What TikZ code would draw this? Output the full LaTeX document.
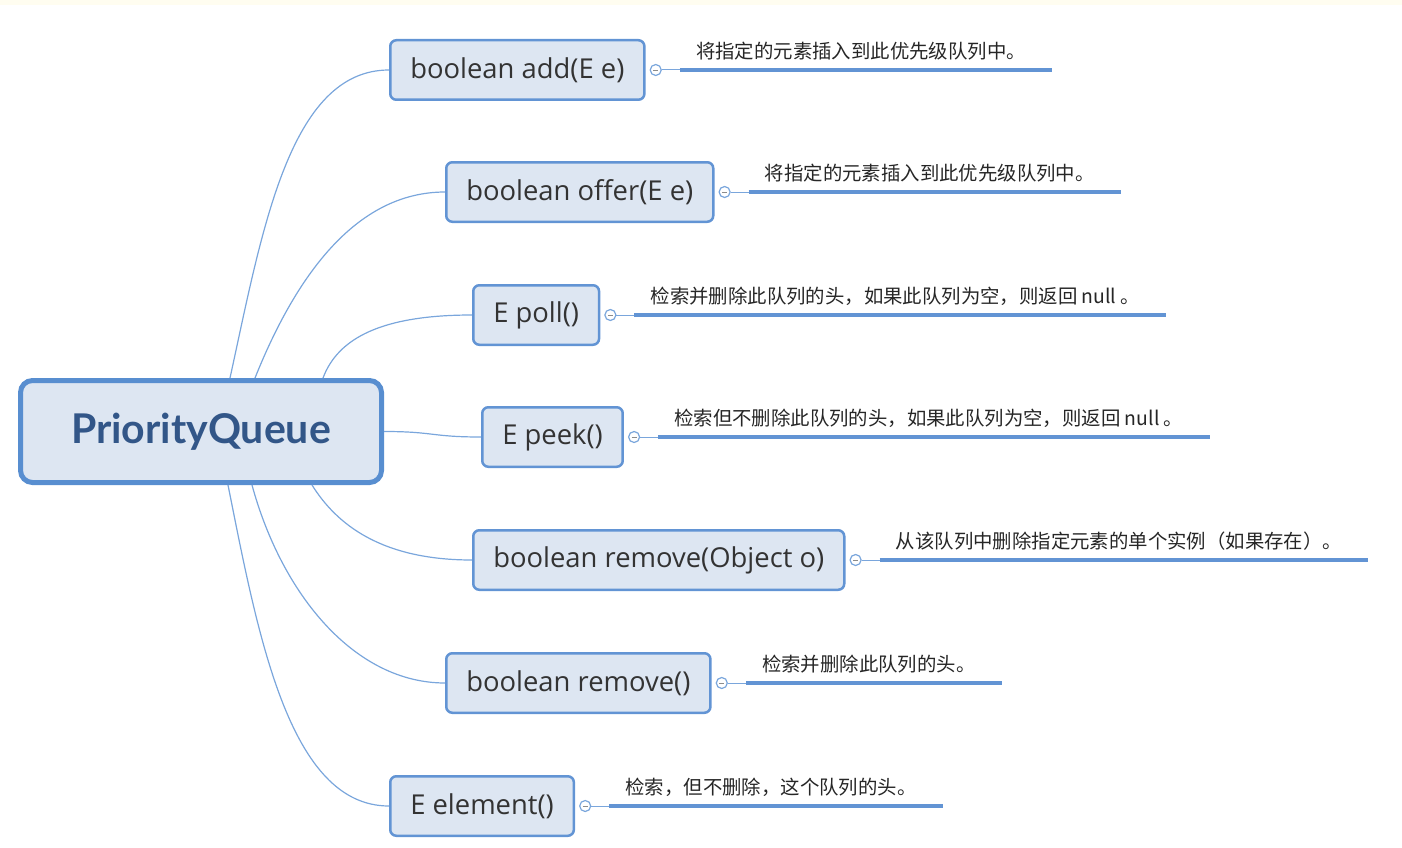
\documentclass[tikz,border=0pt]{standalone}
\usepackage{fontspec}
\setmainfont{Open Sans}
\newfontfamily\rootfont{Lato}
\newfontfamily\cjk{Noto Sans CJK SC}
\usetikzlibrary{positioning, calc}

\definecolor{boxfill}{RGB}{221,230,242}
\definecolor{boxline}{RGB}{98,148,212}
\definecolor{rootline}{RGB}{88,142,208}
\definecolor{curveline}{RGB}{122,166,220}
\definecolor{roottext}{RGB}{50,86,136}
\definecolor{topband}{RGB}{255,253,240}

\tikzset{
  rootbox/.style={draw=rootline, line width=5pt, fill=boxfill, rounded corners=12pt,
    minimum width=361pt, minimum height=102pt, text=roottext,
    font=\rootfont\bfseries\fontsize{41}{46}\selectfont},
  childbox/.style={draw=boxline, line width=2.5pt, fill=boxfill, rounded corners=6pt,
    minimum height=59.5pt, inner xsep=20pt, anchor=west, text=black!80,
    font=\fontsize{27.4}{31}\selectfont},
  foldmark/.style={circle, draw=curveline, line width=1.2pt, fill=white,
    minimum size=11pt, inner sep=0pt,
    path picture={\draw[black!45, line width=0.8pt]
      ([xshift=-2.5pt]path picture bounding box.center) -- ([xshift=2.5pt]path picture bounding box.center);}},
  note/.style={font=\cjk\fontsize{19.4}{22}\selectfont, inner xsep=0pt, inner ysep=11.5pt,
    text depth=0pt, text=black!85},
  branch/.style={draw=curveline, line width=1.2pt},
  stem/.style={draw=curveline, line width=1pt},
  underline/.style={draw=boxline, line width=3.2pt},
}

\begin{document}
\begin{tikzpicture}[x=1pt, y=-1pt]
        \useasboundingbox (0,0) rectangle (1402,848);
        % top band
        \fill[topband] (0,0) rectangle (1402,5);

        % the root
        \node[rootbox] (root) at (201,431.5) {PriorityQueue};

        % the methods
        \node[childbox] (add)     at (389,70)  {boolean add(E e)};
        \node[childbox] (offer)   at (445,192) {boolean offer(E e)};
        \node[childbox] (poll)    at (472,315) {E poll()};
        \node[childbox] (peek)    at (481,437) {E peek()};
        \node[childbox] (removeo) at (472,560) {boolean remove(Object o)};
        \node[childbox] (remove)  at (445,683) {boolean remove()};
        \node[childbox] (element) at (389,806) {E element()};

        % fold marks
        \node[foldmark, right=4pt of add]     (addc) {};
        \node[foldmark, right=4pt of offer]   (offerc) {};
        \node[foldmark, right=4pt of poll]    (pollc) {};
        \node[foldmark, right=4pt of peek]    (peekc) {};
        \node[foldmark, right=4pt of removeo] (removeoc) {};
        \node[foldmark, right=4pt of remove]  (removec) {};
        \node[foldmark, right=4pt of element] (elementc) {};

        % notes
        \node[note, above right=0pt and 34pt of addc.east]     (addl) {将指定的元素插入到此优先级队列中。};
        \node[note, above right=0pt and 34pt of offerc.east]   (offerl) {将指定的元素插入到此优先级队列中。};
        \node[note, above right=0pt and 34pt of pollc.east]    (polll) {检索并删除此队列的头，如果此队列为空，则返回 null 。};
        \node[note, above right=0pt and 34pt of peekc.east]    (peekl) {检索但不删除此队列的头，如果此队列为空，则返回 null 。};
        \node[note, above right=0pt and 34pt of removeoc.east] (removeol) {从该队列中删除指定元素的单个实例（如果存在）。};
        \node[note, above right=0pt and 34pt of removec.east]  (removel) {检索并删除此队列的头。};
        \node[note, above right=0pt and 34pt of elementc.east] (elementl) {检索，但不删除，这个队列的头。};

        % note lines
        \draw[stem] (addc) -- ([xshift=-16pt]addl.south west);
        \draw[underline] ([xshift=-16pt]addl.south west) -- ([xshift=26pt]addl.south east);
        \draw[stem] (offerc) -- ([xshift=-16pt]offerl.south west);
        \draw[underline] ([xshift=-16pt]offerl.south west) -- ([xshift=26pt]offerl.south east);
        \draw[stem] (pollc) -- ([xshift=-16pt]polll.south west);
        \draw[underline] ([xshift=-16pt]polll.south west) -- ([xshift=26pt]polll.south east);
        \draw[stem] (peekc) -- ([xshift=-16pt]peekl.south west);
        \draw[underline] ([xshift=-16pt]peekl.south west) -- ([xshift=26pt]peekl.south east);
        \draw[stem] (removeoc) -- ([xshift=-16pt]removeol.south west);
        \draw[underline] ([xshift=-16pt]removeol.south west) -- ([xshift=26pt]removeol.south east);
        \draw[stem] (removec) -- ([xshift=-16pt]removel.south west);
        \draw[underline] ([xshift=-16pt]removel.south west) -- ([xshift=26pt]removel.south east);
        \draw[stem] (elementc) -- ([xshift=-16pt]elementl.south west);
        \draw[underline] ([xshift=-16pt]elementl.south west) -- ([xshift=26pt]elementl.south east);

        % branches from the root
        \draw[branch] ($(root.north west)+(212,0)$) .. controls +(32,-146) and +(-100,0) .. (add.west);
        \draw[branch] ($(root.north west)+(237,0)$) .. controls +(40,-100) and +(-90,0) .. (offer.west);
        \draw[branch] ($(root.north west)+(305,0)$) .. controls +(15,-40) and +(-90,0) .. (poll.west);
        \draw[branch] (root.east) .. controls +(50,0) and +(-50,0) .. (peek.west);
        \draw[branch] ($(root.south west)+(294,0)$) .. controls +(25,40) and +(-90,0) .. (removeo.west);
        \draw[branch] ($(root.south west)+(234,0)$) .. controls +(30,110) and +(-90,0) .. (remove.west);
        \draw[branch] ($(root.south west)+(210,0)$) .. controls +(30,150) and +(-100,0) .. (element.west);
    \end{tikzpicture}
\end{document}
